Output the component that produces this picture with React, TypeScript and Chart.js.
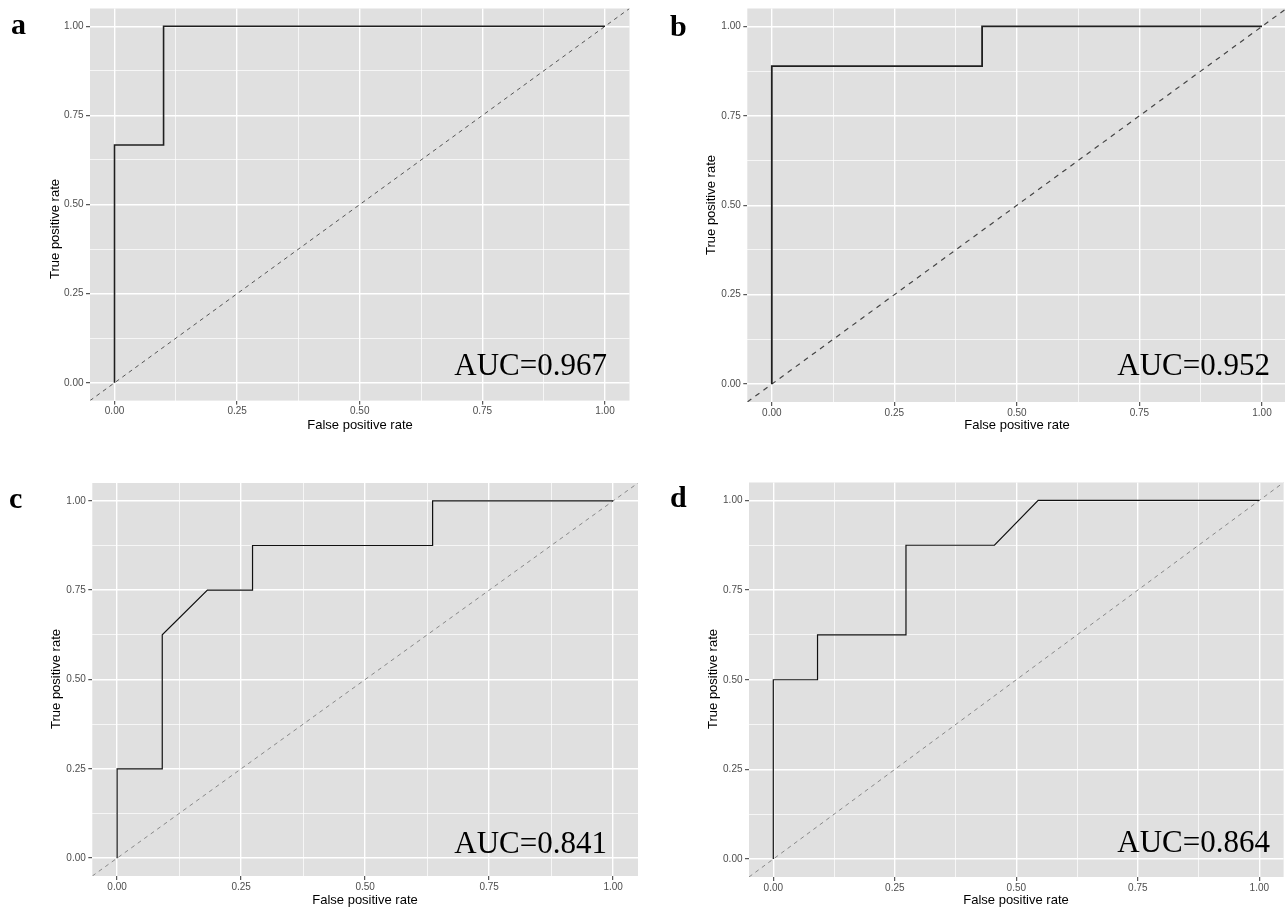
import React, { useEffect, useRef } from "react";
import { Chart, registerables } from "chart.js";

Chart.register(...registerables);

// ---- data ----
const majorTicks = [0, 0.25, 0.5, 0.75, 1];
const gridValues = [0, 0.125, 0.25, 0.375, 0.5, 0.625, 0.75, 0.875, 1];
const axisMin = -0.05;
const axisMax = 1.05;
const diagonal = [-0.05, 1.05];

const fprA = [0, 0, 0.1, 0.1, 1];
const tprA = [0, 0.667, 0.667, 1, 1];

const fprB = [0, 0, 0.429, 0.429, 1];
const tprB = [0, 0.889, 0.889, 1, 1];

const fprC = [0, 0, 0.091, 0.091, 0.182, 0.273, 0.273, 0.636, 0.636, 1];
const tprC = [0, 0.25, 0.25, 0.625, 0.75, 0.75, 0.875, 0.875, 1, 1];

const fprD = [0, 0, 0.091, 0.091, 0.273, 0.273, 0.455, 0.545, 1];
const tprD = [0, 0.5, 0.5, 0.625, 0.625, 0.875, 0.875, 1, 1];

const panelLetters = ["a", "b", "c", "d"];
const aucLabels = ["AUC=0.967", "AUC=0.952", "AUC=0.841", "AUC=0.864"];
const xTitle = "False positive rate";
const yTitle = "True positive rate";

const seriesX = [fprA, fprB, fprC, fprD];
const seriesY = [tprA, tprB, tprC, tprD];

// ---- layout / style (page pixel coordinates) ----
const layouts = [
  {
    canvas: { x: 0, y: 0, w: 645, h: 440 },
    area: { l: 90, t: 8, r: 629.5, b: 400.6 },
    letter: { x: 11, y: 34 },
    auc: { x: 607, y: 375 },
    yT: { x: 55, y: 229 },
    xT: { x: 360, y: 425 },
    curve: "#1f1f1f", curveW: 1.6, diag: "#555555", dash: [4, 4], diagW: 1,
  },
  {
    canvas: { x: 655, y: 0, w: 635, h: 440 },
    area: { l: 747.3, t: 8, r: 1286.5, b: 402 },
    letter: { x: 670, y: 36 },
    auc: { x: 1270, y: 375 },
    yT: { x: 711, y: 205 },
    xT: { x: 1017, y: 425 },
    curve: "#1f1f1f", curveW: 1.8, diag: "#444444", dash: [5, 5], diagW: 1.2,
  },
  {
    canvas: { x: 0, y: 460, w: 650, h: 455 },
    area: { l: 92.3, t: 483, r: 638, b: 876 },
    letter: { x: 9, y: 507.5 },
    auc: { x: 607, y: 853 },
    yT: { x: 56, y: 679 },
    xT: { x: 365, y: 900 },
    curve: "#111111", curveW: 1.2, diag: "#888888", dash: [4, 4], diagW: 1,
  },
  {
    canvas: { x: 655, y: 460, w: 635, h: 455 },
    area: { l: 749, t: 482.5, r: 1283.6, b: 877 },
    letter: { x: 670, y: 506.5 },
    auc: { x: 1270, y: 852 },
    yT: { x: 713, y: 679 },
    xT: { x: 1016, y: 900 },
    curve: "#111111", curveW: 1.2, diag: "#888888", dash: [4, 4], diagW: 1,
  },
];

const isMajor = (v: any) => majorTicks.some((m) => Math.abs(m - v) < 1e-9);
const tickFont = { family: '"Liberation Sans", Arial, sans-serif', size: 10 };

function makeDecor(i: number) {
  const L = layouts[i];
  const ox = L.canvas.x;
  const oy = L.canvas.y;
  return {
    id: "decor" + i,
    beforeDraw(chart: any) {
      const { ctx, chartArea: a } = chart;
      ctx.save();
      ctx.fillStyle = "#E0E0E0";
      ctx.fillRect(a.left, a.top, a.right - a.left, a.bottom - a.top);
      ctx.restore();
    },
    afterDraw(chart: any) {
      const ctx = chart.ctx;
      ctx.save();
      ctx.fillStyle = "#000000";
      ctx.textBaseline = "alphabetic";
      ctx.textAlign = "left";
      ctx.font = 'bold 30px "Liberation Serif", "Times New Roman", serif';
      ctx.fillText(panelLetters[i], L.letter.x - ox, L.letter.y - oy);

      ctx.textAlign = "right";
      ctx.font = '31px "Liberation Serif", "Times New Roman", serif';
      ctx.fillText(aucLabels[i], L.auc.x - ox, L.auc.y - oy);

      ctx.textAlign = "center";
      ctx.textBaseline = "middle";
      ctx.font = '13px "Liberation Sans", Arial, sans-serif';
      ctx.fillText(xTitle, L.xT.x - ox, L.xT.y - oy);

      ctx.translate(L.yT.x - ox, L.yT.y - oy);
      ctx.rotate(-Math.PI / 2);
      ctx.fillText(yTitle, 0, 0);
      ctx.restore();
    },
  };
}

function Panel({ index }: { index: number }) {
  const ref = useRef<HTMLCanvasElement | null>(null);
  const L = layouts[index];

  useEffect(() => {
    if (!ref.current) return;
    const xs = seriesX[index];
    const ys = seriesY[index];
    const yAxisW = L.area.l - L.canvas.x;
    const xAxisH = L.canvas.y + L.canvas.h - L.area.b;

    const axisCommon = (isX: boolean) => ({
      type: "linear" as const,
      min: axisMin,
      max: axisMax,
      afterBuildTicks: (s: any) => {
        s.ticks = gridValues.map((v) => ({ value: v }));
      },
      afterFit: (s: any) => {
        if (isX) s.height = xAxisH;
        else s.width = yAxisW;
      },
      ticks: {
        autoSkip: false,
        maxRotation: 0,
        minRotation: 0,
        padding: isX ? 1 : 2.5,
        color: "#4D4D4D",
        font: tickFont,
        callback: (v: any) => (isMajor(v) ? Number(v).toFixed(2) : ""),
      },
      grid: {
        color: "#FFFFFF",
        lineWidth: (c: any) => (c.tick && isMajor(c.tick.value) ? 1.4 : 0.7),
        drawTicks: true,
        tickLength: 4,
        tickWidth: 1,
        tickColor: (c: any) =>
          c.tick && isMajor(c.tick.value) ? "#333333" : "rgba(0,0,0,0)",
      },
      border: { display: false },
    });

    const chart = new Chart(ref.current, {
      type: "line",
      data: {
        datasets: [
          {
            data: xs.map((x, k) => ({ x, y: ys[k] })),
            borderColor: L.curve,
            borderWidth: L.curveW,
            pointRadius: 0,
            fill: false,
            tension: 0,
          },
          {
            data: diagonal.map((v) => ({ x: v, y: v })),
            borderColor: L.diag,
            borderWidth: L.diagW,
            borderDash: L.dash,
            pointRadius: 0,
            fill: false,
            tension: 0,
          },
        ],
      },
      options: {
        animation: false,
        responsive: false,
        maintainAspectRatio: false,
        devicePixelRatio: 1,
        events: [],
        layout: {
          padding: {
            left: 0,
            bottom: 0,
            top: L.area.t - L.canvas.y,
            right: L.canvas.x + L.canvas.w - L.area.r,
          },
        },
        plugins: {
          legend: { display: false },
          tooltip: { enabled: false },
        },
        scales: {
          x: axisCommon(true) as any,
          y: axisCommon(false) as any,
        },
      },
      plugins: [makeDecor(index)],
    });
    return () => chart.destroy();
  }, [index]);

  return (
    <canvas
      ref={ref}
      width={L.canvas.w}
      height={L.canvas.h}
      style={{
        position: "absolute",
        left: L.canvas.x,
        top: L.canvas.y,
        width: L.canvas.w,
        height: L.canvas.h,
      }}
    />
  );
}

export default function App() {
  return (
    <div
      style={{
        position: "fixed",
        left: 0,
        top: 0,
        width: 1285,
        height: 907,
        overflow: "hidden",
        background: "#FFFFFF",
      }}
    >
      {layouts.map((_, i) => (
        <Panel key={i} index={i} />
      ))}
    </div>
  );
}
